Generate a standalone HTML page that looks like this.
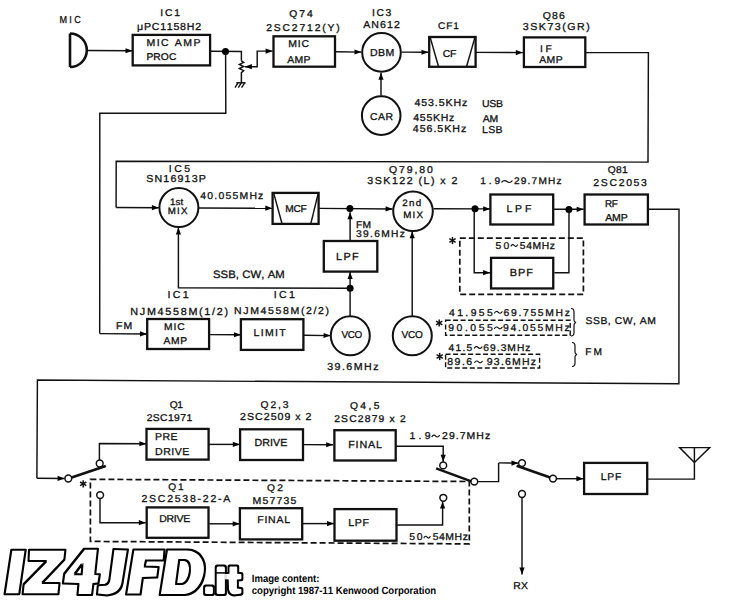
<!DOCTYPE html>
<html><head><meta charset="utf-8"><style>
html,body{margin:0;padding:0;background:#fff;}
svg{display:block;}
svg text{font-family:"Liberation Sans", sans-serif;font-kerning:none;text-rendering:geometricPrecision;}
.t text{fill:#111;stroke:#111;stroke-width:0.3px;}
</style></head><body>
<svg width="745" height="600" viewBox="0 0 745 600">
<g fill="none" stroke="#111" stroke-linecap="butt" stroke-linejoin="miter">
<path d="M70,33.5 L70,67 M70,33.5 A16.8,16.75 0 0 1 70,67" stroke-width="2.6"/>
<polyline points="87.00,50.50 132.50,50.80" stroke-width="1.45"/>
<polygon points="132.50,50.80 125.48,53.35 125.52,48.15" fill="#000" stroke="none"/>
<rect x="132.70" y="34.90" width="77.40" height="30.50" stroke-width="2.30"/>
<polyline points="210.00,51.30 241.40,51.50 241.40,60.80" stroke-width="1.45"/>
<circle cx="225.50" cy="51.50" r="3.50" fill="#000" stroke="none"/>
<polyline points="241.4,60.8 243.6,62.3 239.4,64.4 243.6,66.5 239.4,68.6 243.6,70.7 241.4,72.6 241.4,82.8" stroke-width="1.5"/>
<line x1="236.30" y1="82.80" x2="245.60" y2="82.80" stroke-width="1.45"/>
<line x1="238.00" y1="82.80" x2="235.00" y2="87.60" stroke-width="1.40"/>
<line x1="241.30" y1="82.80" x2="238.30" y2="87.60" stroke-width="1.40"/>
<line x1="244.60" y1="82.80" x2="241.60" y2="87.60" stroke-width="1.40"/>
<polyline points="272.60,51.10 257.20,51.10 257.20,66.70 244.90,66.70" stroke-width="1.45"/>
<polygon points="244.90,66.70 251.90,64.10 251.90,69.30" fill="#000" stroke="none"/>
<polygon points="272.60,51.10 265.60,53.70 265.60,48.50" fill="#000" stroke="none"/>
<rect x="273.50" y="36.30" width="61.50" height="30.40" stroke-width="2.30"/>
<polyline points="335.60,51.80 361.50,52.10" stroke-width="1.45"/>
<polygon points="361.50,52.10 354.47,54.62 354.53,49.42" fill="#000" stroke="none"/>
<circle cx="381.50" cy="52.40" r="19.30" stroke-width="2.00"/>
<circle cx="381.20" cy="115.60" r="19.30" stroke-width="2.00"/>
<polyline points="381.00,95.80 381.00,72.80" stroke-width="1.45"/>
<polygon points="381.00,72.80 383.60,79.80 378.40,79.80" fill="#000" stroke="none"/>
<polyline points="401.70,52.10 428.50,52.30" stroke-width="1.45"/>
<polygon points="428.50,52.30 421.48,54.85 421.52,49.65" fill="#000" stroke="none"/>
<rect x="429.20" y="37.00" width="46.40" height="29.80" stroke-width="2.30"/>
<line x1="430.20" y1="37.40" x2="438.70" y2="67.20" stroke-width="1.45"/>
<line x1="474.90" y1="37.40" x2="466.40" y2="67.20" stroke-width="1.45"/>
<polyline points="476.00,52.40 522.80,52.60" stroke-width="1.45"/>
<polygon points="522.80,52.60 515.79,55.17 515.81,49.97" fill="#000" stroke="none"/>
<rect x="523.90" y="37.40" width="61.40" height="29.60" stroke-width="2.30"/>
<polyline points="585.30,52.60 648.40,52.60 648.00,162.10 116.20,161.20 116.10,207.50" stroke-width="1.45"/>
<polyline points="116.10,207.50 158.90,207.70" stroke-width="1.45"/>
<polygon points="158.90,207.70 151.89,210.27 151.91,205.07" fill="#000" stroke="none"/>
<polyline points="225.60,51.50 225.80,113.30 99.80,113.30 99.70,333.60" stroke-width="1.45"/>
<polyline points="99.70,333.60 147.00,334.00" stroke-width="1.45"/>
<polygon points="147.00,334.00 139.98,336.54 140.02,331.34" fill="#000" stroke="none"/>
<circle cx="178.90" cy="207.60" r="19.50" stroke-width="2.00"/>
<polyline points="199.00,208.00 272.30,208.20" stroke-width="1.45"/>
<polygon points="272.30,208.20 265.29,210.78 265.31,205.58" fill="#000" stroke="none"/>
<rect x="272.60" y="192.90" width="46.00" height="31.00" stroke-width="2.30"/>
<line x1="273.90" y1="193.90" x2="281.90" y2="223.30" stroke-width="1.45"/>
<line x1="318.00" y1="194.20" x2="310.90" y2="223.30" stroke-width="1.45"/>
<polyline points="319.20,208.40 392.60,209.00" stroke-width="1.45"/>
<polygon points="392.60,209.00 385.58,211.54 385.62,206.34" fill="#000" stroke="none"/>
<circle cx="349.90" cy="208.60" r="3.50" fill="#000" stroke="none"/>
<polyline points="350.10,240.90 350.10,212.20" stroke-width="1.45"/>
<polygon points="350.10,212.20 352.70,219.20 347.50,219.20" fill="#000" stroke="none"/>
<rect x="323.80" y="241.00" width="53.50" height="30.60" stroke-width="2.30"/>
<circle cx="350.10" cy="288.30" r="3.50" fill="#000" stroke="none"/>
<polyline points="350.10,316.00 350.10,272.00" stroke-width="1.45"/>
<polygon points="350.10,272.00 352.70,279.00 347.50,279.00" fill="#000" stroke="none"/>
<polyline points="350.10,288.30 178.40,287.80 178.40,227.60" stroke-width="1.45"/>
<polygon points="178.40,227.60 181.00,234.60 175.80,234.60" fill="#000" stroke="none"/>
<circle cx="413.00" cy="211.30" r="19.80" stroke-width="2.00"/>
<polyline points="433.50,208.70 490.20,208.90" stroke-width="1.45"/>
<polygon points="490.20,208.90 483.19,211.48 483.21,206.28" fill="#000" stroke="none"/>
<circle cx="475.00" cy="208.80" r="3.50" fill="#000" stroke="none"/>
<path d="M501.80,182.15 C503.34,180.25 505.40,180.25 506.95,181.55 C508.50,182.85 510.56,182.85 512.10,180.95" stroke-width="1.15" stroke-linecap="round"/>
<rect x="490.40" y="194.50" width="62.80" height="30.00" stroke-width="2.30"/>
<polyline points="553.40,209.20 583.70,209.30" stroke-width="1.45"/>
<polygon points="583.70,209.30 576.69,211.88 576.71,206.68" fill="#000" stroke="none"/>
<circle cx="568.90" cy="209.40" r="3.50" fill="#000" stroke="none"/>
<rect x="584.60" y="194.50" width="63.30" height="30.00" stroke-width="2.30"/>
<polyline points="647.50,209.20 679.00,209.30 678.90,383.80 37.40,380.10 36.90,478.30" stroke-width="1.45"/>
<polyline points="36.90,478.30 64.60,478.50" stroke-width="1.45"/>
<polygon points="64.60,478.50 57.58,481.05 57.62,475.85" fill="#000" stroke="none"/>
<polyline points="412.20,316.00 412.20,231.30" stroke-width="1.45"/>
<polygon points="412.20,231.30 414.80,238.30 409.60,238.30" fill="#000" stroke="none"/>
<circle cx="412.30" cy="335.80" r="19.50" stroke-width="2.00"/>
<rect x="459.80" y="238.20" width="123.60" height="56.20" stroke-width="1.70" stroke-dasharray="6,3"/>
<line x1="452.50" y1="236.90" x2="452.50" y2="244.10" stroke-width="1.50"/>
<line x1="449.38" y1="238.70" x2="455.62" y2="242.30" stroke-width="1.50"/>
<line x1="449.38" y1="242.30" x2="455.62" y2="238.70" stroke-width="1.50"/>
<path d="M511.10,246.10 C512.04,244.20 513.30,244.20 514.25,245.50 C515.19,246.80 516.45,246.80 517.40,244.90" stroke-width="1.15" stroke-linecap="round"/>
<rect x="491.05" y="257.85" width="62.20" height="30.60" stroke-width="2.30"/>
<polyline points="474.20,208.80 474.20,272.70 490.10,272.70" stroke-width="1.45"/>
<polygon points="490.10,272.70 483.10,275.30 483.10,270.10" fill="#000" stroke="none"/>
<polyline points="554.40,272.70 568.90,272.70 569.00,209.20" stroke-width="1.45"/>
<rect x="147.20" y="319.00" width="61.90" height="30.00" stroke-width="2.30"/>
<polyline points="210.10,334.60 241.00,334.80" stroke-width="1.45"/>
<polygon points="241.00,334.80 233.98,337.35 234.02,332.15" fill="#000" stroke="none"/>
<rect x="240.90" y="319.20" width="62.50" height="30.70" stroke-width="2.30"/>
<polyline points="304.00,335.30 330.60,335.60" stroke-width="1.45"/>
<polygon points="330.60,335.60 323.57,338.12 323.63,332.92" fill="#000" stroke="none"/>
<circle cx="350.30" cy="335.80" r="19.50" stroke-width="2.00"/>
<path d="M494.50,312.95 C495.64,311.05 497.16,311.05 498.30,312.35 C499.44,313.65 500.96,313.65 502.10,311.75" stroke-width="1.15" stroke-linecap="round"/>
<line x1="439.20" y1="319.40" x2="439.20" y2="326.60" stroke-width="1.50"/>
<line x1="436.08" y1="321.20" x2="442.32" y2="324.80" stroke-width="1.50"/>
<line x1="436.08" y1="324.80" x2="442.32" y2="321.20" stroke-width="1.50"/>
<rect x="445.60" y="320.20" width="124.60" height="15.00" stroke-width="1.40" stroke-dasharray="5,2.5"/>
<path d="M494.50,328.50 C495.64,326.60 497.16,326.60 498.30,327.90 C499.44,329.20 500.96,329.20 502.10,327.30" stroke-width="1.15" stroke-linecap="round"/>
<path d="M571,308.5 Q574,308.5 574,312 L574,320 Q574,322 576,322.5 Q574,323 574,325 L574,332.5 Q574,336 571,336" stroke-width="1.2"/>
<path d="M474.40,348.10 C475.54,346.20 477.06,346.20 478.20,347.50 C479.34,348.80 480.86,348.80 482.00,346.90" stroke-width="1.15" stroke-linecap="round"/>
<line x1="439.70" y1="352.90" x2="439.70" y2="360.10" stroke-width="1.50"/>
<line x1="436.58" y1="354.70" x2="442.82" y2="358.30" stroke-width="1.50"/>
<line x1="436.58" y1="358.30" x2="442.82" y2="354.70" stroke-width="1.50"/>
<rect x="445.60" y="354.30" width="94.00" height="13.70" stroke-width="1.40" stroke-dasharray="5,2.5"/>
<path d="M474.70,362.50 C475.84,360.60 477.36,360.60 478.50,361.90 C479.64,363.20 481.16,363.20 482.30,361.30" stroke-width="1.15" stroke-linecap="round"/>
<path d="M572,342.5 Q575,342.5 575,346 L575,352 Q575,354 577,354.5 Q575,355 575,357 L575,363 Q575,366.5 572,366.5" stroke-width="1.2"/>
<rect x="146.50" y="428.90" width="62.10" height="30.70" stroke-width="2.30"/>
<polyline points="99.40,460.00 99.40,443.60 146.40,443.80" stroke-width="1.45"/>
<polygon points="146.40,443.80 139.39,446.37 139.41,441.17" fill="#000" stroke="none"/>
<circle cx="68.30" cy="478.50" r="3.40" stroke-width="1.50"/>
<circle cx="99.70" cy="463.50" r="3.40" stroke-width="1.50"/>
<line x1="71.60" y1="477.60" x2="105.80" y2="465.90" stroke-width="2.60"/>
<circle cx="100.10" cy="495.10" r="3.40" stroke-width="1.50"/>
<line x1="83.20" y1="480.20" x2="83.20" y2="487.40" stroke-width="1.50"/>
<line x1="80.08" y1="482.00" x2="86.32" y2="485.60" stroke-width="1.50"/>
<line x1="80.08" y1="485.60" x2="86.32" y2="482.00" stroke-width="1.50"/>
<rect x="240.10" y="429.30" width="62.90" height="30.70" stroke-width="2.30"/>
<polyline points="209.00,444.40 239.80,444.40" stroke-width="1.45"/>
<polygon points="239.80,444.40 232.80,447.00 232.80,441.80" fill="#000" stroke="none"/>
<rect x="334.40" y="430.20" width="61.30" height="30.30" stroke-width="2.30"/>
<polyline points="303.10,444.60 333.20,444.80" stroke-width="1.45"/>
<polygon points="333.20,444.80 326.18,447.35 326.22,442.15" fill="#000" stroke="none"/>
<path d="M432.00,436.65 C433.11,434.75 434.59,434.75 435.70,436.05 C436.81,437.35 438.29,437.35 439.40,435.45" stroke-width="1.15" stroke-linecap="round"/>
<polyline points="396.00,446.20 443.20,446.20 443.20,461.80" stroke-width="1.45"/>
<polygon points="443.20,461.80 440.60,454.80 445.80,454.80" fill="#000" stroke="none"/>
<circle cx="443.20" cy="465.40" r="3.40" stroke-width="1.50"/>
<circle cx="474.30" cy="481.60" r="3.40" stroke-width="1.50"/>
<line x1="436.10" y1="468.40" x2="471.30" y2="481.40" stroke-width="2.60"/>
<circle cx="443.30" cy="497.80" r="3.40" stroke-width="1.50"/>
<polyline points="477.70,481.60 498.60,481.60 498.60,462.90" stroke-width="1.45"/>
<polyline points="498.60,462.90 518.50,463.10" stroke-width="1.45"/>
<polygon points="518.50,463.10 511.47,465.63 511.53,460.43" fill="#000" stroke="none"/>
<circle cx="522.00" cy="463.10" r="3.40" stroke-width="1.50"/>
<circle cx="553.00" cy="478.60" r="3.40" stroke-width="1.50"/>
<line x1="516.60" y1="465.80" x2="550.20" y2="477.60" stroke-width="2.60"/>
<circle cx="522.00" cy="494.00" r="3.40" stroke-width="1.50"/>
<polyline points="556.40,478.70 583.40,478.70" stroke-width="1.45"/>
<polygon points="583.40,478.70 576.40,481.30 576.40,476.10" fill="#000" stroke="none"/>
<rect x="584.10" y="462.90" width="63.10" height="31.10" stroke-width="2.30"/>
<polyline points="647.20,479.10 694.40,479.10 694.40,447.60" stroke-width="1.45"/>
<polygon points="679.6,447.6 709.7,447.6 694.4,462.6" stroke-width="1.4"/>
<polyline points="522.00,497.40 522.00,574.50" stroke-width="1.45"/>
<polygon points="522.00,574.50 519.40,567.50 524.60,567.50" fill="#000" stroke="none"/>
<path d="M90.4,479.3 L469.3,481.5 L469.3,543.9 L90.4,541.4 Z" stroke-width="1.7" stroke-dasharray="6,3"/>
<polyline points="100.00,498.50 100.00,522.70 145.80,522.70" stroke-width="1.45"/>
<polygon points="145.80,522.70 138.80,525.30 138.80,520.10" fill="#000" stroke="none"/>
<rect x="146.70" y="507.40" width="61.80" height="30.40" stroke-width="2.30"/>
<polyline points="209.40,523.80 239.70,523.80" stroke-width="1.45"/>
<polygon points="239.70,523.80 232.70,526.40 232.70,521.20" fill="#000" stroke="none"/>
<rect x="239.90" y="508.20" width="62.30" height="31.20" stroke-width="2.30"/>
<polyline points="302.20,523.60 334.00,523.60" stroke-width="1.45"/>
<polygon points="334.00,523.60 327.00,526.20 327.00,521.00" fill="#000" stroke="none"/>
<rect x="334.50" y="509.10" width="62.00" height="31.60" stroke-width="2.30"/>
<polyline points="395.80,525.00 442.60,525.00 442.60,501.40" stroke-width="1.45"/>
<polygon points="442.60,501.40 445.20,508.40 440.00,508.40" fill="#000" stroke="none"/>
<path d="M424.00,537.80 C424.93,535.90 426.17,535.90 427.10,537.20 C428.03,538.50 429.27,538.50 430.20,536.60" stroke-width="1.15" stroke-linecap="round"/>
<g stroke="#000" stroke-width="2.0" stroke-linejoin="round" fill="#000"><path d="M11.3,549.7 L25.8,549.7 L19.3,594.2 L4.5,594.2 Z" fill-rule="evenodd"/><path d="M29,549.7 L65.5,549.7 L64.4,559.9 L42.4,583 L59.6,583 L58.5,594.2 L22.5,594.2 L23.6,584 L46.2,560.9 L28.5,560.9 Z" fill-rule="evenodd"/><path d="M83.9,548.7 L98,548.7 L95.3,573.9 L99.9,574.3 L98.5,583.5 L93.5,583.9 L92.1,594.9 L77.4,594.9 L78.4,583.9 L62.8,583.5 L64.2,573.4 Z M82.5,563.8 L81.6,574.3 L74.7,574.3 Z" fill-rule="evenodd"/><path d="M113.4,549.1 L128,549.6 L122.5,583.5 Q120.5,594.5 107,595.4 L96.9,594.5 L97.8,585.3 L105,584.8 Q108.8,583.5 109.4,579 Z" fill-rule="evenodd"/><path d="M133.3,549.6 L164.6,549.6 L163.7,560.6 L146.1,560.6 L144.7,566.5 L158.7,567 L157.3,577.5 L142.9,578 L140.6,594.5 L126,594.5 Z" fill-rule="evenodd"/><path d="M166.9,549.6 L188,549.6 C200,550 206,560 204.9,570.6 C204,585 195,594.9 185.2,594.9 L159.6,594.9 Z M179.3,560.1 L184.3,560.1 C189,560.5 190.5,566 189.8,571.6 C189,579 185,583.9 181.6,583.9 L176.1,583.9 Z" fill-rule="evenodd"/><path d="M205.6,585.4 L212.4,585.4 Q213.9,585.4 213.9,586.9 L213.9,593.6 Q213.9,595.1 212.4,595.1 L205.6,595.1 Q204.1,595.1 204.1,593.6 L204.1,586.9 Q204.1,585.4 205.6,585.4 Z" fill-rule="evenodd"/><path d="M217.2,565.5 L224.4,565.5 Q225.9,565.5 225.9,567 L225.9,593.6 Q225.9,595.1 224.4,595.1 L217.2,595.1 Q215.7,595.1 215.7,593.6 L215.7,567 Q215.7,565.5 217.2,565.5 Z" fill-rule="evenodd"/><path d="M229.5,565.5 L237.2,565.5 Q238.2,565.5 238.2,566.5 L238.2,572.8 L241.4,573 Q242.4,573 242.4,574 L242.4,579.3 Q242.4,580.3 241.4,580.3 L237.9,580.5 L237.9,587.5 L241.4,588 Q242.4,588 242.4,589 L242.4,593.5 Q242.4,594.5 241,594.8 L233.7,595.5 Q228.5,595 228,590 L227.7,580.5 L226,580.3 L226,573 L228.5,572.8 L228.5,566.5 Q228.5,565.5 229.5,565.5 Z" fill-rule="evenodd"/></g>
<filter id="er" x="-5%" y="-5%" width="110%" height="110%"><feMorphology operator="erode" radius="0.8"/></filter>
<g stroke="none" fill="#fff" filter="url(#er)"><path d="M11.3,549.7 L25.8,549.7 L19.3,594.2 L4.5,594.2 Z" fill-rule="evenodd"/><path d="M29,549.7 L65.5,549.7 L64.4,559.9 L42.4,583 L59.6,583 L58.5,594.2 L22.5,594.2 L23.6,584 L46.2,560.9 L28.5,560.9 Z" fill-rule="evenodd"/><path d="M83.9,548.7 L98,548.7 L95.3,573.9 L99.9,574.3 L98.5,583.5 L93.5,583.9 L92.1,594.9 L77.4,594.9 L78.4,583.9 L62.8,583.5 L64.2,573.4 Z M82.5,563.8 L81.6,574.3 L74.7,574.3 Z" fill-rule="evenodd"/><path d="M113.4,549.1 L128,549.6 L122.5,583.5 Q120.5,594.5 107,595.4 L96.9,594.5 L97.8,585.3 L105,584.8 Q108.8,583.5 109.4,579 Z" fill-rule="evenodd"/><path d="M133.3,549.6 L164.6,549.6 L163.7,560.6 L146.1,560.6 L144.7,566.5 L158.7,567 L157.3,577.5 L142.9,578 L140.6,594.5 L126,594.5 Z" fill-rule="evenodd"/><path d="M166.9,549.6 L188,549.6 C200,550 206,560 204.9,570.6 C204,585 195,594.9 185.2,594.9 L159.6,594.9 Z M179.3,560.1 L184.3,560.1 C189,560.5 190.5,566 189.8,571.6 C189,579 185,583.9 181.6,583.9 L176.1,583.9 Z" fill-rule="evenodd"/><path d="M205.6,585.4 L212.4,585.4 Q213.9,585.4 213.9,586.9 L213.9,593.6 Q213.9,595.1 212.4,595.1 L205.6,595.1 Q204.1,595.1 204.1,593.6 L204.1,586.9 Q204.1,585.4 205.6,585.4 Z" fill-rule="evenodd"/><path d="M217.2,565.5 L224.4,565.5 Q225.9,565.5 225.9,567 L225.9,593.6 Q225.9,595.1 224.4,595.1 L217.2,595.1 Q215.7,595.1 215.7,593.6 L215.7,567 Q215.7,565.5 217.2,565.5 Z" fill-rule="evenodd"/><path d="M229.5,565.5 L237.2,565.5 Q238.2,565.5 238.2,566.5 L238.2,572.8 L241.4,573 Q242.4,573 242.4,574 L242.4,579.3 Q242.4,580.3 241.4,580.3 L237.9,580.5 L237.9,587.5 L241.4,588 Q242.4,588 242.4,589 L242.4,593.5 Q242.4,594.5 241,594.8 L233.7,595.5 Q228.5,595 228,590 L227.7,580.5 L226,580.3 L226,573 L228.5,572.8 L228.5,566.5 Q228.5,565.5 229.5,565.5 Z" fill-rule="evenodd"/></g>
<line x1="215.7" y1="572.9" x2="225.9" y2="572.9" stroke="#000" stroke-width="1.5"/>
<text x="251.8" y="582.1" font-size="10.5" font-weight="bold" fill="#000" stroke="none" textLength="67.6" lengthAdjust="spacingAndGlyphs">Image content:</text>
<text x="251.8" y="593.8" font-size="10.5" font-weight="bold" fill="#000" stroke="none" textLength="184.4" lengthAdjust="spacingAndGlyphs">copyright 1987-11 Kenwood Corporation</text>
</g>
<g class="t">
<text transform="translate(59.51,23.00) scale(0.900,1)" font-size="10.06" letter-spacing="2.55" font-weight="normal">MIC</text>
<text transform="translate(160.20,16.00) scale(1.050,1)" font-size="9.75" letter-spacing="1.77" font-weight="normal">IC1</text>
<text transform="translate(137.03,30.00) scale(1.050,1)" font-size="10.15" letter-spacing="0.70" font-weight="normal">μPC1158H2</text>
<text transform="translate(146.39,46.00) scale(1.050,1)" font-size="10.01" letter-spacing="1.45" font-weight="normal">MIC AMP</text>
<text transform="translate(146.41,60.00) scale(1.050,1)" font-size="9.80" letter-spacing="0.07" font-weight="normal">PROC</text>
<text transform="translate(289.16,17.00) scale(1.050,1)" font-size="9.80" letter-spacing="1.93" font-weight="normal">Q74</text>
<text transform="translate(266.13,31.00) scale(1.050,1)" font-size="9.88" letter-spacing="1.76" font-weight="normal">2SC2712(Y)</text>
<text transform="translate(288.19,47.00) scale(1.050,1)" font-size="9.97" letter-spacing="0.84" font-weight="normal">MIC</text>
<text transform="translate(287.23,63.00) scale(1.050,1)" font-size="9.93" letter-spacing="0.28" font-weight="normal">AMP</text>
<text transform="translate(369.98,56.00) scale(1.050,1)" font-size="10.06" letter-spacing="0.36" font-weight="normal">DBM</text>
<text transform="translate(372.09,16.00) scale(1.050,1)" font-size="9.88" letter-spacing="1.41" font-weight="normal">IC3</text>
<text transform="translate(363.23,28.00) scale(1.050,1)" font-size="10.06" letter-spacing="1.04" font-weight="normal">AN612</text>
<text transform="translate(369.92,120.00) scale(1.050,1)" font-size="9.93" letter-spacing="0.48" font-weight="normal">CAR</text>
<text transform="translate(414.41,106.00) scale(1.050,1)" font-size="10.10" letter-spacing="0.86" font-weight="normal">453.5KHz</text>
<text transform="translate(413.31,121.00) scale(1.050,1)" font-size="10.06" letter-spacing="0.65" font-weight="normal">455KHz</text>
<text transform="translate(412.81,132.00) scale(1.050,1)" font-size="10.15" letter-spacing="0.92" font-weight="normal">456.5KHz</text>
<text transform="translate(482.04,107.00) scale(1.049,1)" font-size="10.01" letter-spacing="-0.30" font-weight="normal">USB</text>
<text transform="translate(482.83,122.00) scale(1.050,1)" font-size="9.93" letter-spacing="-0.25" font-weight="normal">AM</text>
<text transform="translate(481.99,133.00) scale(1.050,1)" font-size="10.01" letter-spacing="0.35" font-weight="normal">LSB</text>
<text transform="translate(437.94,29.00) scale(1.050,1)" font-size="9.62" letter-spacing="0.91" font-weight="normal">CF1</text>
<text transform="translate(442.72,57.00) scale(1.050,1)" font-size="9.97" letter-spacing="-0.29" font-weight="normal">CF</text>
<text transform="translate(540.10,52.00) scale(1.050,1)" font-size="9.75" letter-spacing="2.53" font-weight="normal">IF</text>
<text transform="translate(539.13,63.00) scale(1.050,1)" font-size="9.93" letter-spacing="0.52" font-weight="normal">AMP</text>
<text transform="translate(542.75,19.00) scale(1.050,1)" font-size="9.97" letter-spacing="1.13" font-weight="normal">Q86</text>
<text transform="translate(522.84,30.00) scale(1.050,1)" font-size="10.15" letter-spacing="1.42" font-weight="normal">3SK73(GR)</text>
<text transform="translate(168.68,172.00) scale(1.050,1)" font-size="9.97" letter-spacing="2.43" font-weight="normal">IC5</text>
<text transform="translate(146.17,182.00) scale(1.050,1)" font-size="10.15" letter-spacing="1.12" font-weight="normal">SN16913P</text>
<text transform="translate(170.01,205.00) scale(1.050,1)" font-size="9.30" letter-spacing="0.09" font-weight="normal">1st</text>
<text transform="translate(167.85,214.00) scale(1.050,1)" font-size="9.30" letter-spacing="1.07" font-weight="normal">MIX</text>
<text transform="translate(200.31,199.00) scale(1.050,1)" font-size="9.93" letter-spacing="1.16" font-weight="normal">40.055MHz</text>
<text transform="translate(285.31,212.00) scale(1.026,1)" font-size="9.93" letter-spacing="-0.30" font-weight="normal">MCF</text>
<text transform="translate(355.91,228.00) scale(1.050,1)" font-size="9.75" letter-spacing="0.38" font-weight="normal">FM</text>
<text transform="translate(356.06,237.00) scale(1.050,1)" font-size="9.75" letter-spacing="1.23" font-weight="normal">39.6MHz</text>
<text transform="translate(336.06,260.00) scale(1.050,1)" font-size="10.32" letter-spacing="1.26" font-weight="normal">LPF</text>
<text transform="translate(212.94,278.00) scale(1.050,1)" font-size="10.76" letter-spacing="0.08" font-weight="normal">SSB, CW, AM</text>
<text transform="translate(167.57,298.00) scale(1.050,1)" font-size="10.10" letter-spacing="2.23" font-weight="normal">IC1</text>
<text transform="translate(273.67,298.00) scale(1.050,1)" font-size="10.10" letter-spacing="2.28" font-weight="normal">IC1</text>
<text transform="translate(402.26,206.00) scale(1.050,1)" font-size="9.30" letter-spacing="1.20" font-weight="normal">2nd</text>
<text transform="translate(403.25,218.00) scale(1.050,1)" font-size="9.30" letter-spacing="1.11" font-weight="normal">MIX</text>
<text transform="translate(389.05,173.00) scale(1.050,1)" font-size="9.97" letter-spacing="1.80" font-weight="normal">Q79,80</text>
<text transform="translate(367.34,184.00) scale(1.050,1)" font-size="10.15" letter-spacing="1.41" font-weight="normal">3SK122 (L) x 2</text>
<text transform="translate(480.18,184.00) scale(1.050,1)" font-size="9.62" letter-spacing="2.86" font-weight="normal">1.9</text>
<text transform="translate(514.04,184.00) scale(1.050,1)" font-size="9.62" letter-spacing="1.12" font-weight="normal">29.7MHz</text>
<text transform="translate(506.39,212.00) scale(1.050,1)" font-size="9.97" letter-spacing="2.75" font-weight="normal">LPF</text>
<text transform="translate(607.76,173.00) scale(1.050,1)" font-size="9.75" letter-spacing="0.25" font-weight="normal">Q81</text>
<text transform="translate(593.32,186.00) scale(1.050,1)" font-size="9.97" letter-spacing="1.58" font-weight="normal">2SC2053</text>
<text transform="translate(605.04,207.00) scale(0.990,1)" font-size="9.93" letter-spacing="-0.30" font-weight="normal">RF</text>
<text transform="translate(605.33,221.00) scale(1.050,1)" font-size="10.06" letter-spacing="-0.24" font-weight="normal">AMP</text>
<text transform="translate(401.61,338.00) scale(1.010,1)" font-size="9.97" letter-spacing="-0.30" font-weight="normal">VCO</text>
<text transform="translate(495.54,249.00) scale(1.050,1)" font-size="9.84" letter-spacing="2.21" font-weight="normal">50</text>
<text transform="translate(519.74,249.00) scale(1.050,1)" font-size="9.84" letter-spacing="0.62" font-weight="normal">54MHz</text>
<text transform="translate(509.86,276.00) scale(1.050,1)" font-size="10.36" letter-spacing="0.89" font-weight="normal">BPF</text>
<text transform="translate(130.36,315.00) scale(1.050,1)" font-size="10.28" letter-spacing="1.62" font-weight="normal">NJM4558M(1/2)</text>
<text transform="translate(115.99,329.00) scale(1.050,1)" font-size="9.93" letter-spacing="1.10" font-weight="normal">FM</text>
<text transform="translate(164.01,330.00) scale(1.050,1)" font-size="9.75" letter-spacing="0.89" font-weight="normal">MIC</text>
<text transform="translate(163.53,344.00) scale(1.050,1)" font-size="9.80" letter-spacing="0.61" font-weight="normal">AMP</text>
<text transform="translate(234.09,314.00) scale(1.050,1)" font-size="10.01" letter-spacing="1.56" font-weight="normal">NJM4558M(2/2)</text>
<text transform="translate(253.59,336.00) scale(1.050,1)" font-size="10.01" letter-spacing="1.25" font-weight="normal">LIMIT</text>
<text transform="translate(341.41,338.00) scale(0.991,1)" font-size="9.97" letter-spacing="-0.30" font-weight="normal">VCO</text>
<text transform="translate(327.14,370.00) scale(1.050,1)" font-size="10.15" letter-spacing="1.40" font-weight="normal">39.6MHz</text>
<text transform="translate(449.01,316.00) scale(1.050,1)" font-size="9.88" letter-spacing="2.29" font-weight="normal">41.955</text>
<text transform="translate(503.62,316.00) scale(1.050,1)" font-size="9.88" letter-spacing="1.58" font-weight="normal">69.755MHz</text>
<text transform="translate(448.26,331.00) scale(1.050,1)" font-size="9.93" letter-spacing="2.41" font-weight="normal">90.055</text>
<text transform="translate(503.06,331.00) scale(1.050,1)" font-size="9.93" letter-spacing="1.60" font-weight="normal">94.055MHz</text>
<text transform="translate(448.51,351.00) scale(1.050,1)" font-size="9.75" letter-spacing="1.19" font-weight="normal">41.5</text>
<text transform="translate(483.33,351.00) scale(1.050,1)" font-size="9.75" letter-spacing="0.98" font-weight="normal">69.3MHz</text>
<text transform="translate(447.29,365.00) scale(1.050,1)" font-size="10.01" letter-spacing="1.41" font-weight="normal">89.6</text>
<text transform="translate(486.76,365.00) scale(1.050,1)" font-size="10.01" letter-spacing="1.16" font-weight="normal">93.6MHz</text>
<text transform="translate(585.58,324.00) scale(1.050,1)" font-size="9.88" letter-spacing="0.49" font-weight="normal">SSB, CW, AM</text>
<text transform="translate(585.22,355.00) scale(1.050,1)" font-size="9.67" letter-spacing="2.01" font-weight="normal">FM</text>
<text transform="translate(169.67,408.00) scale(1.045,1)" font-size="9.75" letter-spacing="-0.30" font-weight="normal">Q1</text>
<text transform="translate(146.63,421.00) scale(1.050,1)" font-size="9.84" letter-spacing="0.39" font-weight="normal">2SC1971</text>
<text transform="translate(154.99,440.00) scale(1.050,1)" font-size="10.01" letter-spacing="0.43" font-weight="normal">PRE</text>
<text transform="translate(154.98,455.00) scale(1.050,1)" font-size="10.10" letter-spacing="0.48" font-weight="normal">DRIVE</text>
<text transform="translate(260.56,408.00) scale(1.050,1)" font-size="9.84" letter-spacing="1.73" font-weight="normal">Q2,3</text>
<text transform="translate(240.12,420.00) scale(1.050,1)" font-size="10.10" letter-spacing="0.96" font-weight="normal">2SC2509 x 2</text>
<text transform="translate(254.47,446.00) scale(1.050,1)" font-size="10.19" letter-spacing="0.06" font-weight="normal">DRIVE</text>
<text transform="translate(349.96,409.00) scale(1.050,1)" font-size="9.84" letter-spacing="2.26" font-weight="normal">Q4,5</text>
<text transform="translate(334.13,422.00) scale(1.050,1)" font-size="9.84" letter-spacing="1.14" font-weight="normal">2SC2879 x 2</text>
<text transform="translate(348.16,448.00) scale(1.050,1)" font-size="10.28" letter-spacing="0.78" font-weight="normal">FINAL</text>
<text transform="translate(409.45,439.00) scale(1.050,1)" font-size="9.97" letter-spacing="3.07" font-weight="normal">1.9</text>
<text transform="translate(442.02,439.00) scale(1.050,1)" font-size="9.97" letter-spacing="0.99" font-weight="normal">29.7MHz</text>
<text transform="translate(600.70,480.00) scale(1.050,1)" font-size="9.88" letter-spacing="0.73" font-weight="normal">LPF</text>
<text transform="translate(513.20,589.00) scale(1.050,1)" font-size="9.88" letter-spacing="0.34" font-weight="normal">RX</text>
<text transform="translate(168.37,490.00) scale(1.050,1)" font-size="9.62" letter-spacing="1.61" font-weight="normal">Q1</text>
<text transform="translate(141.42,502.00) scale(1.050,1)" font-size="10.01" letter-spacing="1.68" font-weight="normal">2SC2538-22-A</text>
<text transform="translate(159.19,522.00) scale(1.050,1)" font-size="10.01" letter-spacing="-0.27" font-weight="normal">DRIVE</text>
<text transform="translate(266.97,491.00) scale(1.050,1)" font-size="9.71" letter-spacing="2.28" font-weight="normal">Q2</text>
<text transform="translate(252.49,504.00) scale(1.050,1)" font-size="10.01" letter-spacing="1.11" font-weight="normal">M57735</text>
<text transform="translate(257.19,523.00) scale(1.050,1)" font-size="9.97" letter-spacing="0.77" font-weight="normal">FINAL</text>
<text transform="translate(348.18,526.00) scale(1.050,1)" font-size="10.10" letter-spacing="0.69" font-weight="normal">LPF</text>
<text transform="translate(409.23,540.00) scale(1.050,1)" font-size="9.93" letter-spacing="1.74" font-weight="normal">50</text>
<text transform="translate(432.63,540.00) scale(1.050,1)" font-size="9.93" letter-spacing="0.53" font-weight="normal">54MHz</text>
</g>
</svg>
</body></html>
